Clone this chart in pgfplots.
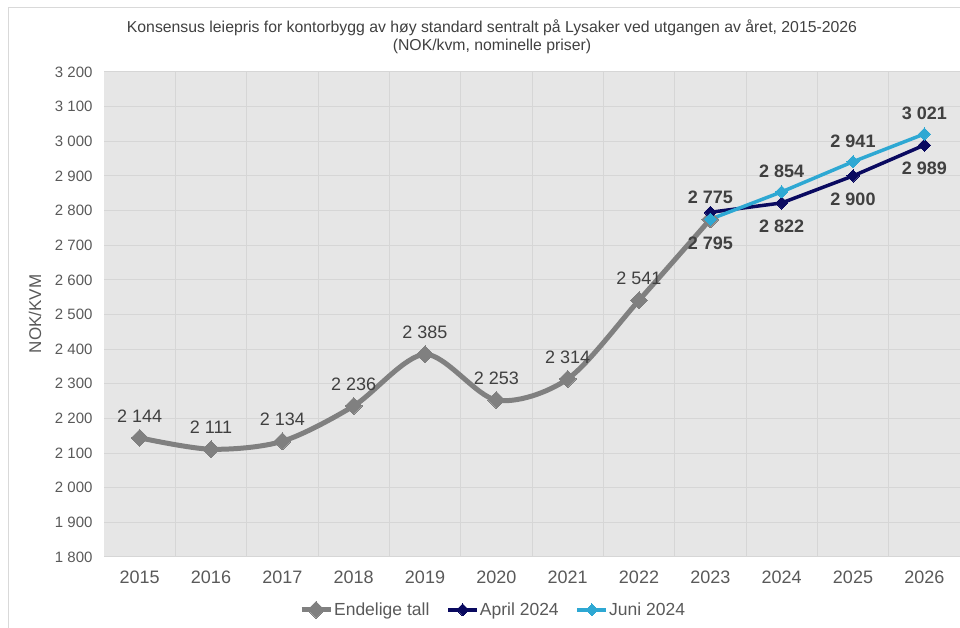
\documentclass[border=0pt]{standalone}
\usepackage{pgfplots}
\pgfplotsset{compat=1.18}
\usepackage{fontspec}
\setmainfont{Liberation Sans}
\definecolor{bgg}{HTML}{E6E6E6}
\definecolor{gridg}{HTML}{D6D6D6}
\definecolor{frameg}{HTML}{D9D9D9}
\definecolor{lineg}{HTML}{808080}
\definecolor{navy}{HTML}{0A0A60}
\definecolor{cyanj}{HTML}{2EA8D3}
\definecolor{tickc}{HTML}{595959}
\definecolor{labc}{HTML}{404040}
\begin{document}
\begin{tikzpicture}[x=1pt,y=1pt]
\useasboundingbox (0,0) rectangle (960,628);
\draw[frameg,line width=1pt] (8,-5) -- (8,620) -- (970,620);
\node[text=labc,align=center,font=\fontsize{15.8}{18}\selectfont] at (492,591)
  {Konsensus leiepris for kontorbygg av høy standard sentralt på Lysaker ved utgangen av året, 2015-2026\\(NOK/kvm, nominelle priser)};
\node[rotate=90,text=tickc,font=\fontsize{17}{20}\selectfont] at (35,314) {NOK/KVM};
\begin{axis}[
  at={(104pt,71pt)}, anchor=south west,
  scale only axis, width=856pt, height=485pt,
  xmin=-0.5, xmax=11.5, ymin=1800, ymax=3200,
  clip=false,
  axis background/.style={fill=bgg},
  axis line style={draw=none},
  major tick length=0pt, minor tick length=0pt,
  xtick={0,...,11},
  xticklabels={2015,2016,2017,2018,2019,2020,2021,2022,2023,2024,2025,2026},
  minor xtick={0.5,1.5,...,10.5},
  xminorgrids=true, ymajorgrids=true,
  minor grid style={gridg,line width=1pt},
  major grid style={gridg,line width=1pt},
  ytick={1800,1900,...,3200},
  yticklabel={\pgfmathparse{int(\tick/1000)}\ifnum\pgfmathresult>0 \pgfmathresult\ \fi\pgfmathparse{int(mod(\tick,1000))}\ifnum\pgfmathresult<100 0\fi\ifnum\pgfmathresult<10 0\fi\pgfmathresult},
  yticklabel style={text=tickc,font=\fontsize{15}{18}\selectfont,xshift=-8pt},
  xticklabel style={text=tickc,font=\fontsize{18}{20}\selectfont,yshift=-10pt},
  legend style={at={(0.454,-0.109)},anchor=center,draw=none,fill=none,
    font=\fontsize{17.5}{20}\selectfont,text=tickc,
    /tikz/every even column/.append style={column sep=16pt},
    inner sep=0pt, nodes={inner sep=1pt}},
  legend columns=3,
  legend image code/.code={\draw[mark repeat=2,mark phase=2] plot coordinates {(0pt,0pt) (14.5pt,0pt) (29pt,0pt)};},
]
\addplot[lineg, line width=5pt, smooth, tension=0.5, mark=square*, mark size=6pt,
  mark options={rotate=45,line width=0pt,fill=lineg,solid},
  nodes near coords, point meta=explicit symbolic,
  every node near coord/.style={anchor=south,yshift=12pt,text=labc,font=\fontsize{18}{20}\selectfont}]
  coordinates {(0,2144)[2 144] (1,2111)[2 111] (2,2134)[2 134] (3,2236)[2 236] (4,2385)[2 385] (5,2253)[2 253] (6,2314)[2 314] (7,2541)[2 541] (8,2775)[]};
\addlegendentry{Endelige tall}
\addplot[navy, line width=3.5pt, mark=square*, mark size=4.3pt,
  mark options={rotate=45,line width=0pt,fill=navy,solid},
  nodes near coords, point meta=explicit symbolic,
  every node near coord/.style={anchor=north,yshift=-14pt,text=labc,font=\bfseries\fontsize{18}{20}\selectfont}]
  coordinates {(8,2795)[] (9,2822)[2 822] (10,2900)[2 900] (11,2989)[2 989]};
\addlegendentry{April 2024}
\addplot[cyanj, line width=3.5pt, mark=square*, mark size=4.3pt,
  mark options={rotate=45,line width=0pt,fill=cyanj,solid},
  nodes near coords, point meta=explicit symbolic,
  every node near coord/.style={anchor=south,yshift=11pt,text=labc,font=\bfseries\fontsize{18}{20}\selectfont}]
  coordinates {(8,2775)[] (9,2854)[2 854] (10,2941)[2 941] (11,3021)[3 021]};
\addlegendentry{Juni 2024}
\addplot[draw=none, forget plot, nodes near coords, point meta=explicit symbolic,
  every node near coord/.style={anchor=south,yshift=5pt,text=labc,font=\bfseries\fontsize{18}{20}\selectfont}]
  coordinates {(8,2795)[2 775]};
\addplot[draw=none, forget plot, nodes near coords, point meta=explicit symbolic,
  every node near coord/.style={anchor=north,yshift=-14pt,text=labc,font=\bfseries\fontsize{18}{20}\selectfont}]
  coordinates {(8,2775)[2 795]};
\end{axis}
\end{tikzpicture}
\end{document}
